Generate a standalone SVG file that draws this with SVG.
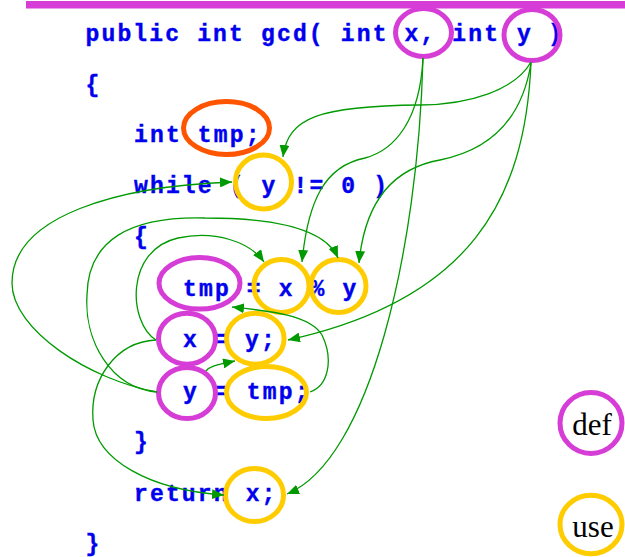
<svg xmlns="http://www.w3.org/2000/svg" width="625" height="557" viewBox="0 0 625 557">
  <defs>
    <marker id="arrow" viewBox="0 0 12 10" refX="12" refY="5" markerWidth="12" markerHeight="10" markerUnits="userSpaceOnUse" orient="auto">
      <path d="M0,0 L12,5 L0,10 z" fill="#009a00"/>
    </marker>
    <style>
      .code { font-family: "Liberation Mono", "DejaVu Sans Mono", monospace; font-weight: bold; font-size: 23px; letter-spacing: 2.15px; fill: #0000ee; stroke: #0000ee; stroke-width: 0.4; }
      .def { fill: none; stroke: #d63cd6; stroke-width: 5; }
      .use { fill: none; stroke: #ffcc00; stroke-width: 5; }
      .decl { fill: none; stroke: #ff5500; stroke-width: 5; }
      .edge { fill: none; stroke: #009a00; stroke-width: 1.3; marker-end: url(#arrow); }
      .legend { font-family: "Liberation Serif", "Times New Roman", serif; font-size: 31px; fill: #000000; text-anchor: middle; }
    </style>
  </defs>

  <!-- title bar -->
  <rect x="26" y="1" width="599" height="7.5" fill="#d63cd6"/>

  <!-- source text that is not a def/use node -->
  <g id="code">
    <text class="code" x="85.5" y="41">public int gcd( int</text>
    <text class="code" x="452.35" y="41">int</text>
    <text class="code" x="548" y="41">)</text>
    <text class="code" x="85.5" y="92">{</text>
    <text class="code" x="134" y="142">int</text>
    <text class="code" x="134" y="193">while (</text>
    <text class="code" x="293.5" y="193">!= 0 )</text>
    <text class="code" x="134" y="244">{</text>
    <text class="code" x="246.8" y="296">=</text>
    <text class="code" x="310.6" y="296">%</text>
    <text class="code" x="214.9" y="347">=</text>
    <text class="code" x="214.9" y="399">=</text>
    <text class="code" x="134" y="449">}</text>
    <text class="code" x="134" y="501">return</text>
    <text class="code" x="85.5" y="551">}</text>
  </g>

  <!-- def / use nodes -->
  <g id="def-x-param">
    <text class="code" x="404.5" y="41">x,</text>
    <ellipse class="def" cx="423.5" cy="32.5" rx="28" ry="24"/>
  </g>
  <g id="def-y-param">
    <text class="code" x="517" y="41">y</text>
    <ellipse class="def" cx="532" cy="35" rx="28" ry="25.5"/>
  </g>
  <g id="decl-tmp">
    <text class="code" x="197.8" y="142">tmp;</text>
    <ellipse class="decl" cx="226.5" cy="128" rx="43" ry="26.5"/>
  </g>
  <g id="use-y-while">
    <text class="code" x="261.6" y="193">y</text>
    <ellipse class="use" cx="263.5" cy="182" rx="28" ry="27"/>
  </g>
  <g id="def-tmp">
    <text class="code" x="183" y="296">tmp</text>
    <ellipse class="def" cx="199.5" cy="283.3" rx="40.5" ry="25.8"/>
  </g>
  <g id="use-x-mod">
    <text class="code" x="278.7" y="296">x</text>
    <ellipse class="use" cx="281.5" cy="286" rx="27.5" ry="26.5"/>
  </g>
  <g id="use-y-mod">
    <text class="code" x="342.5" y="296">y</text>
    <ellipse class="use" cx="338.5" cy="286" rx="27.5" ry="26.5"/>
  </g>
  <g id="def-x-assign">
    <text class="code" x="183" y="347">x</text>
    <ellipse class="def" cx="187" cy="338.7" rx="28.5" ry="25.5"/>
  </g>
  <g id="use-y-assign">
    <text class="code" x="245" y="347">y;</text>
    <ellipse class="use" cx="255.3" cy="338.7" rx="28.8" ry="25.5"/>
  </g>
  <g id="def-y-assign">
    <text class="code" x="183" y="399">y</text>
    <ellipse class="def" cx="187" cy="393" rx="28.5" ry="25.5"/>
  </g>
  <g id="use-tmp-assign">
    <text class="code" x="246.8" y="399">tmp;</text>
    <ellipse class="use" cx="266.5" cy="392.5" rx="40" ry="26"/>
  </g>
  <g id="use-x-return">
    <text class="code" x="245.65" y="501">x;</text>
    <ellipse class="use" cx="254.5" cy="495" rx="29" ry="26.5"/>
  </g>

  <!-- legend -->
  <g id="legend-def">
    <ellipse class="def" cx="591" cy="423" rx="31" ry="30.5"/>
    <text class="legend" x="592" y="435">def</text>
  </g>
  <g id="legend-use">
    <ellipse class="use" cx="591" cy="524.5" rx="31" ry="29.2"/>
    <text class="legend" x="593" y="537">use</text>
  </g>

  <!-- def-use connectors -->
  <g id="connectors">
    <path class="edge" d="M423,58 C420,120 395,150 365,158 C325,166 308,200 302,262"/>
    <path class="edge" d="M423,58 C418,250 370,460 287,494"/>
    <path class="edge" d="M531,62 C515,90 470,104.5 420,105 C320,106 288,117 283,157"/>
    <path class="edge" d="M531,63 C522,120 490,150 440,160 C395,168 365,200 359,263"/>
    <path class="edge" d="M531,63 C525,200 470,300 288,340"/>
    <path class="edge" d="M157,392 C90,380 12,330 12,283 C12,215 120,186 232,182"/>
    <path class="edge" d="M157,392 C110,388 84,340 87,295 C88,240 130,216 205,218 C270,218 325,228 338,258"/>
    <path class="edge" d="M156,340 C128,322 125,250 178,238 C215,230 250,242 264,262"/>
    <path class="edge" d="M156,340 C115,342 90,380 93,420 C96,460 150,490 224,495"/>
    <path class="edge" d="M206,371 C210,366 216,365 235,361"/>
    <path class="edge" d="M310,392 C328,386 334,360 322,335 C310,315 270,311 232,307"/>
  </g>
</svg>
